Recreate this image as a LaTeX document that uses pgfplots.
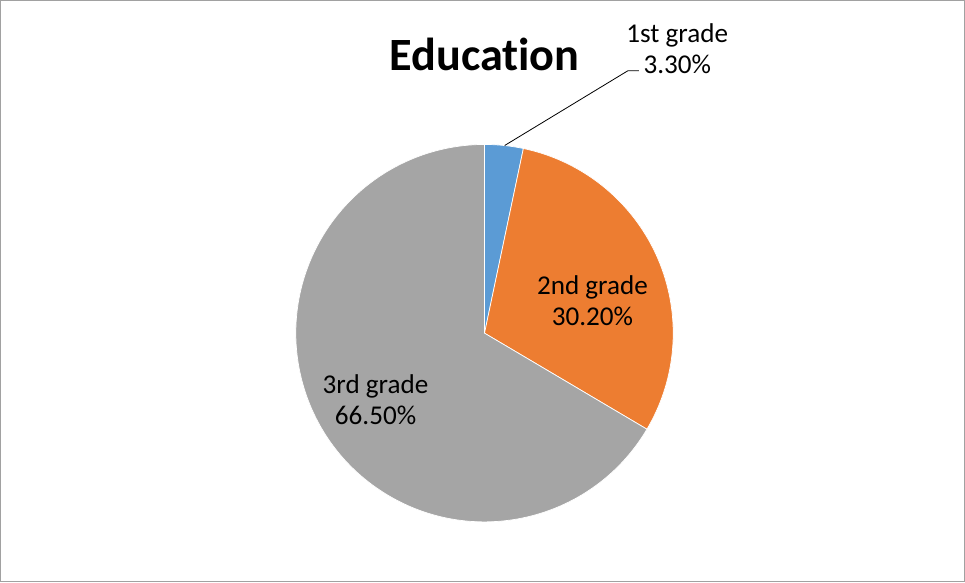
\documentclass[border=0pt]{standalone}
\usepackage{pgfplots}
\pgfplotsset{compat=1.18}
\usepackage{fontspec}
\setmainfont{Carlito}[Ligatures=NoCommon]

\definecolor{c1}{HTML}{5B9BD5}
\definecolor{c2}{HTML}{ED7D31}
\definecolor{c3}{HTML}{A5A5A5}

% shares in percent
\def\va{3.3}
\def\vb{30.2}
\def\vc{66.5}
% slice angles, clockwise from the top
\pgfmathsetmacro\aA{90}
\pgfmathsetmacro\aB{\aA-3.6*\va}
\pgfmathsetmacro\aC{\aB-3.6*\vb}
\pgfmathsetmacro\aD{\aC-3.6*\vc}

\begin{document}
\begin{tikzpicture}
\begin{axis}[
    scale only axis, width=965bp, height=581bp,
    xmin=0, xmax=965, ymin=0, ymax=581, y dir=reverse,
    hide axis, clip=false,
]
% chart frame
\draw[color=black!37, line width=1.3bp] (axis cs:6.5,3.5) rectangle (axis cs:961.5,579);

% pie, centre (486,333), radius 187
\fill[c1, draw=white, line width=0.7bp] (axis cs:486,333) -- (axis cs:{486+187*cos(\aA)},{333-187*sin(\aA)})
    arc[start angle=\aA, end angle=\aB, radius=187bp] -- cycle;
\fill[c2, draw=white, line width=0.7bp] (axis cs:486,333) -- (axis cs:{486+187*cos(\aB)},{333-187*sin(\aB)})
    arc[start angle=\aB, end angle=\aC, radius=187bp] -- cycle;
\fill[c3, draw=white, line width=0.7bp] (axis cs:486,333) -- (axis cs:{486+187*cos(\aC)},{333-187*sin(\aC)})
    arc[start angle=\aC, end angle=\aD, radius=187bp] -- cycle;

% title
\node[font=\bfseries\fontsize{46}{46}\selectfont] at (axis cs:486,57) {Education};

% data labels
\draw[black, line width=0.8bp] (axis cs:506,147) -- (axis cs:628,73) -- (axis cs:639,73);
\node[align=center, font=\fontsize{27}{31}\selectfont] at (axis cs:677,51) {1st grade\\3.30\%};
\node[align=center, font=\fontsize{27}{31}\selectfont] at (axis cs:593,301) {2nd grade\\30.20\%};
\node[align=center, font=\fontsize{27}{31}\selectfont] at (axis cs:378,399) {3rd grade\\66.50\%};
\end{axis}
\end{tikzpicture}
\end{document}
